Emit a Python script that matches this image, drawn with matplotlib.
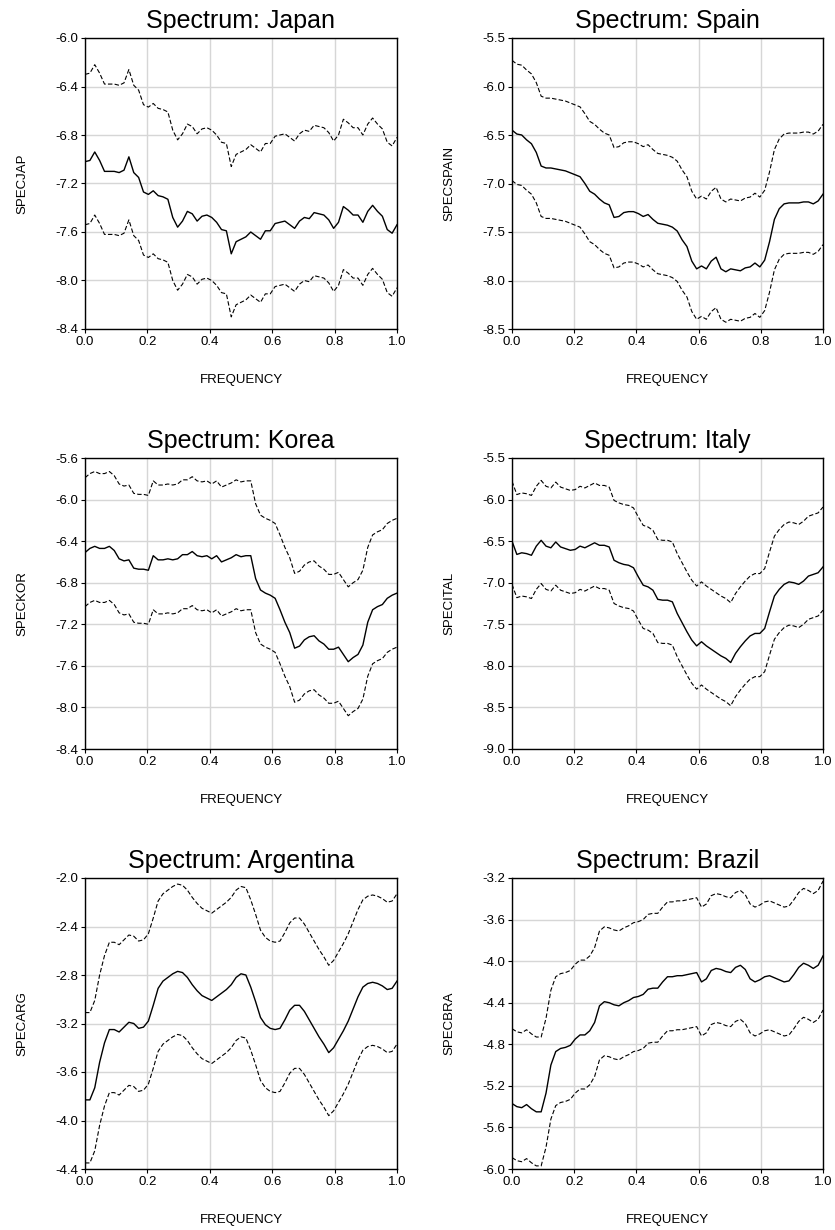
"""Log spectra with confidence bands for six countries (3x2 grid)."""
import numpy as np
import matplotlib

matplotlib.use("Agg")
import matplotlib.pyplot as plt  # noqa: E402

plt.rcParams["font.family"] = ["Liberation Sans", "DejaVu Sans"]

# frequency grid, k/64
freq = np.arange(65) / 64.0

jap = [-7.02, -7.01, -6.94, -7.01, -7.10, -7.10, -7.10, -7.11, -7.09, -6.98, -7.11, -7.15, -7.27, -7.29, -7.26, -7.30,
       -7.31, -7.33, -7.48, -7.56, -7.51, -7.43, -7.45, -7.51, -7.47, -7.46, -7.48, -7.52, -7.58, -7.59, -7.78, -7.68,
       -7.66, -7.64, -7.60, -7.63, -7.66, -7.59, -7.59, -7.53, -7.52, -7.51, -7.54, -7.57, -7.51, -7.48, -7.49, -7.44,
       -7.45, -7.46, -7.50, -7.57, -7.52, -7.39, -7.42, -7.46, -7.46, -7.52, -7.43, -7.38, -7.43, -7.47, -7.58, -7.61, -7.54]
jap_hi = [-6.30, -6.29, -6.22, -6.29, -6.38, -6.38, -6.38, -6.39, -6.37, -6.26, -6.39, -6.43, -6.55, -6.57, -6.54, -6.58,
          -6.59, -6.61, -6.76, -6.84, -6.79, -6.71, -6.73, -6.79, -6.75, -6.74, -6.76, -6.80, -6.86, -6.87, -7.06, -6.96,
          -6.94, -6.92, -6.88, -6.91, -6.94, -6.87, -6.87, -6.81, -6.80, -6.79, -6.82, -6.85, -6.79, -6.76, -6.77, -6.72,
          -6.73, -6.74, -6.78, -6.85, -6.80, -6.67, -6.70, -6.74, -6.74, -6.80, -6.71, -6.66, -6.71, -6.75, -6.86, -6.89, -6.82]
jap_lo = [-7.54, -7.53, -7.46, -7.53, -7.62, -7.62, -7.62, -7.63, -7.61, -7.50, -7.63, -7.67, -7.79, -7.81, -7.78, -7.82,
          -7.83, -7.85, -8.00, -8.08, -8.03, -7.95, -7.97, -8.03, -7.99, -7.98, -8.00, -8.04, -8.10, -8.11, -8.30, -8.20,
          -8.18, -8.16, -8.12, -8.15, -8.18, -8.11, -8.11, -8.05, -8.04, -8.03, -8.06, -8.09, -8.03, -8.00, -8.01, -7.96,
          -7.97, -7.98, -8.02, -8.09, -8.04, -7.91, -7.94, -7.98, -7.98, -8.04, -7.95, -7.90, -7.95, -7.99, -8.10, -8.13, -8.06]

spain = [-6.45, -6.49, -6.50, -6.55, -6.59, -6.68, -6.82, -6.84, -6.84, -6.85, -6.86, -6.87, -6.89, -6.91, -6.93, -7.00,
         -7.08, -7.11, -7.16, -7.20, -7.22, -7.35, -7.34, -7.30, -7.29, -7.29, -7.31, -7.34, -7.32, -7.37, -7.41, -7.42,
         -7.43, -7.45, -7.49, -7.58, -7.65, -7.80, -7.88, -7.85, -7.88, -7.80, -7.76, -7.88, -7.91, -7.88, -7.89, -7.90,
         -7.87, -7.86, -7.82, -7.86, -7.79, -7.60, -7.37, -7.26, -7.21, -7.20, -7.20, -7.20, -7.19, -7.19, -7.21, -7.18, -7.11]
spain_hi = [-5.73, -5.77, -5.78, -5.83, -5.87, -5.96, -6.10, -6.12, -6.12, -6.13, -6.14, -6.15, -6.17, -6.19, -6.21, -6.28,
            -6.36, -6.39, -6.44, -6.48, -6.50, -6.63, -6.62, -6.58, -6.57, -6.57, -6.59, -6.62, -6.60, -6.65, -6.69, -6.70,
            -6.71, -6.73, -6.77, -6.86, -6.93, -7.08, -7.16, -7.13, -7.16, -7.08, -7.04, -7.16, -7.19, -7.16, -7.17, -7.18,
            -7.15, -7.14, -7.10, -7.14, -7.07, -6.88, -6.65, -6.54, -6.49, -6.48, -6.48, -6.48, -6.47, -6.47, -6.49, -6.46, -6.39]
spain_lo = [-6.97, -7.01, -7.02, -7.07, -7.11, -7.20, -7.34, -7.36, -7.36, -7.37, -7.38, -7.39, -7.41, -7.43, -7.45, -7.52,
            -7.60, -7.63, -7.68, -7.72, -7.74, -7.87, -7.86, -7.82, -7.81, -7.81, -7.83, -7.86, -7.84, -7.89, -7.93, -7.94,
            -7.95, -7.97, -8.01, -8.10, -8.17, -8.32, -8.40, -8.37, -8.40, -8.32, -8.28, -8.40, -8.43, -8.40, -8.41, -8.42,
            -8.39, -8.38, -8.34, -8.38, -8.31, -8.12, -7.89, -7.78, -7.73, -7.72, -7.72, -7.72, -7.71, -7.71, -7.73, -7.70, -7.63]

korea = [-6.51, -6.47, -6.45, -6.47, -6.47, -6.45, -6.49, -6.57, -6.59, -6.58, -6.66, -6.67, -6.67, -6.68, -6.54, -6.58,
         -6.58, -6.57, -6.58, -6.57, -6.53, -6.53, -6.50, -6.54, -6.55, -6.54, -6.57, -6.54, -6.60, -6.58, -6.56, -6.53,
         -6.55, -6.54, -6.54, -6.76, -6.87, -6.90, -6.92, -6.95, -7.06, -7.18, -7.28, -7.43, -7.41, -7.35, -7.32, -7.31,
         -7.36, -7.39, -7.44, -7.44, -7.42, -7.49, -7.56, -7.52, -7.49, -7.40, -7.18, -7.06, -7.03, -7.01, -6.95, -6.92, -6.90]
korea_hi = [-5.79, -5.75, -5.73, -5.75, -5.75, -5.73, -5.77, -5.85, -5.87, -5.86, -5.94, -5.95, -5.95, -5.96, -5.82, -5.86,
            -5.86, -5.85, -5.86, -5.85, -5.81, -5.81, -5.78, -5.82, -5.83, -5.82, -5.85, -5.82, -5.88, -5.86, -5.84, -5.81,
            -5.83, -5.82, -5.82, -6.04, -6.15, -6.18, -6.20, -6.23, -6.34, -6.46, -6.56, -6.71, -6.69, -6.63, -6.60, -6.59,
            -6.64, -6.67, -6.72, -6.72, -6.70, -6.77, -6.84, -6.80, -6.77, -6.68, -6.46, -6.34, -6.31, -6.29, -6.23, -6.20, -6.18]
korea_lo = [-7.03, -6.99, -6.97, -6.99, -6.99, -6.97, -7.01, -7.09, -7.11, -7.10, -7.18, -7.19, -7.19, -7.20, -7.06, -7.10,
            -7.10, -7.09, -7.10, -7.09, -7.05, -7.05, -7.02, -7.06, -7.07, -7.06, -7.09, -7.06, -7.12, -7.10, -7.08, -7.05,
            -7.07, -7.06, -7.06, -7.28, -7.39, -7.42, -7.44, -7.47, -7.58, -7.70, -7.80, -7.95, -7.93, -7.87, -7.84, -7.83,
            -7.88, -7.91, -7.96, -7.96, -7.94, -8.01, -8.08, -8.04, -8.01, -7.92, -7.70, -7.58, -7.55, -7.53, -7.47, -7.44, -7.42]

italy = [-6.50, -6.66, -6.64, -6.65, -6.67, -6.56, -6.49, -6.56, -6.58, -6.51, -6.57, -6.59, -6.61, -6.60, -6.56, -6.58,
         -6.55, -6.52, -6.55, -6.55, -6.57, -6.73, -6.76, -6.78, -6.79, -6.82, -6.93, -7.03, -7.05, -7.09, -7.20, -7.21,
         -7.21, -7.23, -7.37, -7.48, -7.59, -7.69, -7.76, -7.71, -7.76, -7.80, -7.84, -7.88, -7.91, -7.96, -7.85, -7.77,
         -7.70, -7.64, -7.61, -7.61, -7.55, -7.35, -7.16, -7.08, -7.02, -6.99, -7.00, -7.02, -6.98, -6.92, -6.90, -6.88, -6.81]
italy_hi = [-5.78, -5.94, -5.92, -5.93, -5.95, -5.84, -5.77, -5.84, -5.86, -5.79, -5.85, -5.87, -5.89, -5.88, -5.84, -5.86,
            -5.83, -5.80, -5.83, -5.83, -5.85, -6.01, -6.04, -6.06, -6.07, -6.10, -6.21, -6.31, -6.33, -6.37, -6.48, -6.49,
            -6.49, -6.51, -6.65, -6.76, -6.87, -6.97, -7.04, -6.99, -7.04, -7.08, -7.12, -7.16, -7.19, -7.24, -7.13, -7.05,
            -6.98, -6.92, -6.89, -6.89, -6.83, -6.63, -6.44, -6.36, -6.30, -6.27, -6.28, -6.30, -6.26, -6.20, -6.18, -6.16, -6.09]
italy_lo = [-7.02, -7.18, -7.16, -7.17, -7.19, -7.08, -7.01, -7.08, -7.10, -7.03, -7.09, -7.11, -7.13, -7.12, -7.08, -7.10,
            -7.07, -7.04, -7.07, -7.07, -7.09, -7.25, -7.28, -7.30, -7.31, -7.34, -7.45, -7.55, -7.57, -7.61, -7.72, -7.73,
            -7.73, -7.75, -7.89, -8.00, -8.11, -8.21, -8.28, -8.23, -8.28, -8.32, -8.36, -8.40, -8.43, -8.48, -8.37, -8.29,
            -8.22, -8.16, -8.13, -8.13, -8.07, -7.87, -7.68, -7.60, -7.54, -7.51, -7.52, -7.54, -7.50, -7.44, -7.42, -7.40, -7.33]

arg = [-3.83, -3.83, -3.73, -3.52, -3.36, -3.25, -3.25, -3.27, -3.23, -3.19, -3.20, -3.24, -3.23, -3.18, -3.05, -2.91,
       -2.85, -2.82, -2.79, -2.77, -2.78, -2.82, -2.88, -2.93, -2.97, -2.99, -3.01, -2.98, -2.95, -2.92, -2.88, -2.82,
       -2.79, -2.80, -2.90, -3.02, -3.15, -3.21, -3.24, -3.25, -3.24, -3.17, -3.09, -3.05, -3.05, -3.10, -3.17, -3.24,
       -3.31, -3.37, -3.44, -3.40, -3.33, -3.26, -3.18, -3.08, -2.98, -2.90, -2.87, -2.86, -2.87, -2.89, -2.92, -2.91, -2.85]
arg_hi = [-3.11, -3.11, -3.01, -2.80, -2.64, -2.53, -2.53, -2.55, -2.51, -2.47, -2.48, -2.52, -2.51, -2.46, -2.33, -2.19,
          -2.13, -2.10, -2.07, -2.05, -2.06, -2.10, -2.16, -2.21, -2.25, -2.27, -2.29, -2.26, -2.23, -2.20, -2.16, -2.10,
          -2.07, -2.08, -2.18, -2.30, -2.43, -2.49, -2.52, -2.53, -2.52, -2.45, -2.37, -2.33, -2.33, -2.38, -2.45, -2.52,
          -2.59, -2.65, -2.72, -2.68, -2.61, -2.54, -2.46, -2.36, -2.26, -2.18, -2.15, -2.14, -2.15, -2.17, -2.20, -2.19, -2.13]
arg_lo = [-4.35, -4.35, -4.25, -4.04, -3.88, -3.77, -3.77, -3.79, -3.75, -3.71, -3.72, -3.76, -3.75, -3.70, -3.57, -3.43,
          -3.37, -3.34, -3.31, -3.29, -3.30, -3.34, -3.40, -3.45, -3.49, -3.51, -3.53, -3.50, -3.47, -3.44, -3.40, -3.34,
          -3.31, -3.32, -3.42, -3.54, -3.67, -3.73, -3.76, -3.77, -3.76, -3.69, -3.61, -3.57, -3.57, -3.62, -3.69, -3.76,
          -3.83, -3.89, -3.96, -3.92, -3.85, -3.78, -3.70, -3.60, -3.50, -3.42, -3.39, -3.38, -3.39, -3.41, -3.44, -3.43, -3.37]

bra = [-5.37, -5.40, -5.41, -5.38, -5.42, -5.45, -5.45, -5.27, -5.00, -4.87, -4.84, -4.83, -4.81, -4.75, -4.71, -4.71,
       -4.67, -4.59, -4.43, -4.39, -4.40, -4.42, -4.43, -4.40, -4.38, -4.35, -4.34, -4.32, -4.27, -4.26, -4.26, -4.20,
       -4.15, -4.15, -4.14, -4.14, -4.13, -4.12, -4.11, -4.20, -4.17, -4.09, -4.07, -4.08, -4.10, -4.11, -4.06, -4.04,
       -4.08, -4.17, -4.20, -4.18, -4.15, -4.14, -4.16, -4.18, -4.20, -4.19, -4.13, -4.06, -4.02, -4.04, -4.07, -4.04, -3.95]
bra_hi = [-4.65, -4.68, -4.69, -4.66, -4.70, -4.73, -4.73, -4.55, -4.28, -4.15, -4.12, -4.11, -4.09, -4.03, -3.99, -3.99,
          -3.95, -3.87, -3.71, -3.67, -3.68, -3.70, -3.71, -3.68, -3.66, -3.63, -3.62, -3.60, -3.55, -3.54, -3.54, -3.48,
          -3.43, -3.43, -3.42, -3.42, -3.41, -3.40, -3.39, -3.48, -3.45, -3.37, -3.35, -3.36, -3.38, -3.39, -3.34, -3.32,
          -3.36, -3.45, -3.48, -3.46, -3.43, -3.42, -3.44, -3.46, -3.48, -3.47, -3.41, -3.34, -3.30, -3.32, -3.35, -3.32, -3.23]
bra_lo = [-5.89, -5.92, -5.93, -5.90, -5.94, -5.97, -5.97, -5.79, -5.52, -5.39, -5.36, -5.35, -5.33, -5.27, -5.23, -5.23,
          -5.19, -5.11, -4.95, -4.91, -4.92, -4.94, -4.95, -4.92, -4.90, -4.87, -4.86, -4.84, -4.79, -4.78, -4.78, -4.72,
          -4.67, -4.67, -4.66, -4.66, -4.65, -4.64, -4.63, -4.72, -4.69, -4.61, -4.59, -4.60, -4.62, -4.63, -4.58, -4.56,
          -4.60, -4.69, -4.72, -4.70, -4.67, -4.66, -4.68, -4.70, -4.72, -4.71, -4.65, -4.58, -4.54, -4.56, -4.59, -4.56, -4.47]

titles = ["Spectrum: Japan", "Spectrum: Spain", "Spectrum: Korea",
          "Spectrum: Italy", "Spectrum: Argentina", "Spectrum: Brazil"]
ylabels = ["SPECJAP", "SPECSPAIN", "SPECKOR", "SPECITAL", "SPECARG", "SPECBRA"]
yticks = [[-6.0, -6.4, -6.8, -7.2, -7.6, -8.0, -8.4],
          [-5.5, -6.0, -6.5, -7.0, -7.5, -8.0, -8.5],
          [-5.6, -6.0, -6.4, -6.8, -7.2, -7.6, -8.0, -8.4],
          [-5.5, -6.0, -6.5, -7.0, -7.5, -8.0, -8.5, -9.0],
          [-2.0, -2.4, -2.8, -3.2, -3.6, -4.0, -4.4],
          [-3.2, -3.6, -4.0, -4.4, -4.8, -5.2, -5.6, -6.0]]
series = [(jap, jap_hi, jap_lo), (spain, spain_hi, spain_lo), (korea, korea_hi, korea_lo),
          (italy, italy_hi, italy_lo), (arg, arg_hi, arg_lo), (bra, bra_hi, bra_lo)]

W, H = 835, 1230
fig = plt.figure(figsize=(W / 100, H / 100), dpi=100)

lefts = [85, 512]
widths = [312, 311]
tops = [38, 458, 878]
ph = 291

for i in range(6):
    row, col = divmod(i, 2)
    x0, w = lefts[col], widths[col]
    y0 = tops[row]
    ax = fig.add_axes([x0 / W, 1 - (y0 + ph) / H, w / W, ph / H])
    mid, hi, lo = series[i]
    ax.plot(freq, hi, color="black", lw=0.8, ls=(0, (4, 2)))
    ax.plot(freq, mid, color="black", lw=1.0)
    ax.plot(freq, lo, color="black", lw=0.8, ls=(0, (4, 2)))

    ticks = yticks[i]
    ax.set_ylim(min(ticks), max(ticks))
    ax.set_yticks(ticks)
    ax.set_yticklabels([f"{t:.1f}" for t in ticks])
    ax.set_xlim(0, 1)
    ax.set_xticks([0, 0.2, 0.4, 0.6, 0.8, 1.0])
    ax.set_xticklabels(["0.0", "0.2", "0.4", "0.6", "0.8", "1.0"])
    ax.grid(True, color="#d6d6d6", lw=1.0)
    ax.set_axisbelow(True)
    for s in ax.spines.values():
        s.set_color("black")
        s.set_linewidth(1.0)
    ax.tick_params(direction="out", length=3, width=0.8, labelsize=9.5, pad=2)

    ax.set_title(titles[i], fontsize=18, pad=7)
    ax.set_ylabel(ylabels[i], fontsize=9.5)
    ax.yaxis.set_label_coords(-57 / w, 0.5)
    ax.set_xlabel("FREQUENCY", fontsize=9.5)
    ax.xaxis.set_label_coords(0.5, -45 / ph)

fig.savefig("out.png", dpi=100)
